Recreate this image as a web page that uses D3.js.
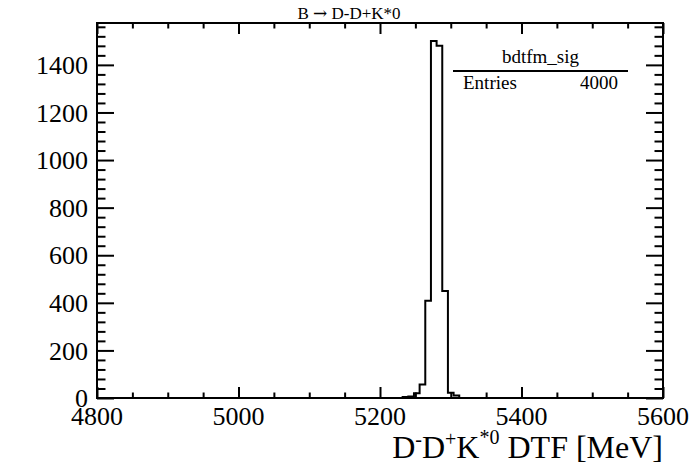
<!DOCTYPE html>
<html>
<head>
<meta charset="utf-8">
<script src="https://cdn.jsdelivr.net/npm/d3@7"></script>
<style>
  body { margin: 0; background: #fff; }
  svg { display: block; }
</style>
</head>
<body>
<div class="histo"></div>
<script>
// histogram bdtfm_sig: 100 bins from 4800 to 5600 MeV, only filled bins listed
const histRange = [4800, 5600];
const binWidth = 8;
const binLow = [5232, 5240, 5248, 5256, 5264, 5272, 5280, 5288, 5296, 5304];
const binCounts = [4, 6, 20, 57, 409, 1500, 1480, 450, 22, 10];

const xMajorTicks = [4800, 5000, 5200, 5400, 5600];
const yMajorTicks = [0, 200, 400, 600, 800, 1000, 1200, 1400];
const yMax = 1576;

const histName = "bdtfm_sig";
const entries = 4000;

const W = 698, H = 475;
const margin = { top: 23, right: 35, bottom: 77, left: 97 };
const width = W - margin.left - margin.right;
const height = H - margin.top - margin.bottom;
const serif = "'Liberation Serif', 'Times New Roman', Times, 'DejaVu Serif', serif";

const svg = d3.select('.histo').append('svg')
    .attr('width', W)
    .attr('height', H)
    .attr('font-family', serif)
    .style('font-family', serif);

const g = svg.append('g')
    .attr('transform', `translate(${margin.left},${margin.top})`);

const x = d3.scaleLinear().domain(histRange).range([0, width]);
const y = d3.scaleLinear().domain([0, yMax]).range([height, 0]);

const xMinor = d3.range(histRange[0], histRange[1] + 1, 50).filter(v => !xMajorTicks.includes(v));
const yMinor = d3.range(0, yMax, 40).filter(v => !yMajorTicks.includes(v));

// histogram outline (step line)
let pts = [[histRange[0], 0], [binLow[0], 0]];
binLow.forEach((lo, i) => {
    pts.push([lo, binCounts[i]]);
    pts.push([lo + binWidth, binCounts[i]]);
});
pts.push([binLow[binLow.length - 1] + binWidth, 0]);
pts.push([histRange[1], 0]);

g.append('path')
    .datum(pts)
    .attr('fill', 'none')
    .attr('stroke', '#000')
    .attr('stroke-width', 2)
    .attr('d', d3.line().x(d => x(d[0])).y(d => y(d[1])));

// axes: ticks point inward on all four sides
function ticks(axis, vals, size, transform) {
    const a = g.append('g')
        .attr('transform', transform)
        .call(axis.tickValues(vals).tickSize(size).tickFormat(''));
    a.select('.domain').remove();
    a.selectAll('line').attr('stroke', '#000').attr('stroke-width', 2);
}
ticks(d3.axisBottom(x), xMajorTicks, -11, `translate(0,${height})`);
ticks(d3.axisBottom(x), xMinor, -5.5, `translate(0,${height})`);
ticks(d3.axisTop(x), xMajorTicks, -11, 'translate(0,0)');
ticks(d3.axisTop(x), xMinor, -5.5, 'translate(0,0)');
ticks(d3.axisLeft(y), yMajorTicks, -17, 'translate(0,0)');
ticks(d3.axisLeft(y), yMinor, -8.5, 'translate(0,0)');
ticks(d3.axisRight(y), yMajorTicks, -17, `translate(${width},0)`);
ticks(d3.axisRight(y), yMinor, -8.5, `translate(${width},0)`);

// frame
g.append('rect')
    .attr('width', width)
    .attr('height', height)
    .attr('fill', 'none')
    .attr('stroke', '#000')
    .attr('stroke-width', 2);

// tick labels
g.selectAll('.xlab').data(xMajorTicks).enter().append('text')
    .attr('x', d => x(d))
    .attr('y', height + 27)
    .attr('text-anchor', 'middle')
    .attr('font-size', 26)
    .text(d => d);

g.selectAll('.ylab').data(yMajorTicks).enter().append('text')
    .attr('x', -9)
    .attr('y', d => y(d))
    .attr('dy', '0.35em')
    .attr('text-anchor', 'end')
    .attr('font-size', 26)
    .text(d => d);

// x axis title
const xt = svg.append('text')
    .attr('x', margin.left + width)
    .attr('y', 458)
    .attr('text-anchor', 'end')
    .attr('font-size', 32);
xt.append('tspan').text('D');
xt.append('tspan').attr('font-size', 20).attr('dy', -12).text('-');
xt.append('tspan').attr('dy', 12).text('D');
xt.append('tspan').attr('font-size', 20).attr('dy', -12).text('+');
xt.append('tspan').attr('dy', 12).text('K');
xt.append('tspan').attr('font-size', 20).attr('dy', -14).text('*0');
xt.append('tspan').attr('dy', 14).text(' DTF [MeV]');

// title
const tt = svg.append('text')
    .attr('x', 349)
    .attr('y', 19)
    .attr('text-anchor', 'middle')
    .attr('font-size', 17);
tt.append('tspan').text('B ');
tt.append('tspan').attr('font-family', "'DejaVu Serif', serif").text('\u2192');
tt.append('tspan').text(' D-D+K*0');

// stats box
const sx0 = 453, sx1 = 628;
svg.append('rect')
    .attr('x', sx0).attr('y', 44)
    .attr('width', sx1 - sx0).attr('height', 52)
    .attr('fill', '#fff');
svg.append('text')
    .attr('x', (sx0 + sx1) / 2)
    .attr('y', 63)
    .attr('text-anchor', 'middle')
    .attr('font-size', 19)
    .text(histName);
svg.append('line')
    .attr('x1', sx0).attr('x2', sx1)
    .attr('y1', 71).attr('y2', 71)
    .attr('stroke', '#000')
    .attr('stroke-width', 2);
svg.append('text')
    .attr('x', 463)
    .attr('y', 89)
    .attr('font-size', 19)
    .text('Entries');
svg.append('text')
    .attr('x', 618)
    .attr('y', 89)
    .attr('text-anchor', 'end')
    .attr('font-size', 19)
    .text(entries);
</script>
</body>
</html>
